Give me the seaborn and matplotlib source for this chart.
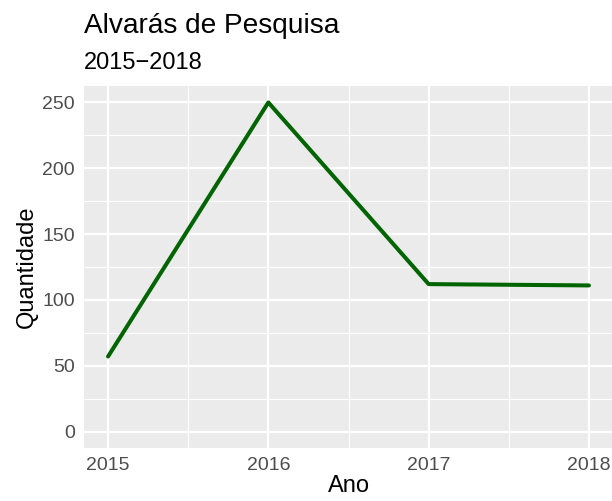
import numpy as np
import pandas as pd
import matplotlib.pyplot as plt
import seaborn as sns

anos = [2015, 2016, 2017, 2018]
quantidade = [57, 250, 112, 111]

df = pd.DataFrame({'Ano': anos, 'Quantidade': quantidade})

sns.set_theme(style='darkgrid')
plt.rcParams['font.family'] = ['Liberation Sans', 'DejaVu Sans']

fig = plt.figure(figsize=(6.12, 5.01), dpi=100)
ax = fig.add_axes([84/612, 53/501, 529/612, 362/501])
ax.set_facecolor('#EBEBEB')

sns.lineplot(data=df, x='Ano', y='Quantidade', color='#006400', linewidth=2.9, ax=ax)

ax.set_xlim(2014.85, 2018.15)
ax.set_ylim(-12.5, 262.5)
ax.set_xticks(anos)
ax.set_xticks([2015.5, 2016.5, 2017.5], minor=True)
ax.set_yticks([0, 50, 100, 150, 200, 250])
ax.set_yticks([25, 75, 125, 175, 225], minor=True)
ax.grid(which='major', color='white', linewidth=1.6)
ax.grid(which='minor', color='white', linewidth=0.8)
for s in ax.spines.values():
    s.set_visible(False)
ax.tick_params(which='major', length=4, width=1.3, color='#333333',
               labelsize=14, labelcolor='#4D4D4D', pad=2.5)
ax.tick_params(which='minor', length=0)
ax.set_xlabel('Ano', fontsize=17, color='black', labelpad=1)
ax.set_ylabel('Quantidade', fontsize=17, color='black', labelpad=3)

fig.text(84/612, 1 - 33/501, 'Alvarás de Pesquisa', fontsize=20.2, color='black',
         ha='left', va='baseline')
fig.text(84/612, 1 - 69/501, '2015\u22122018', fontsize=17, color='black',
         ha='left', va='baseline')

fig.savefig('out.png', dpi=100)
